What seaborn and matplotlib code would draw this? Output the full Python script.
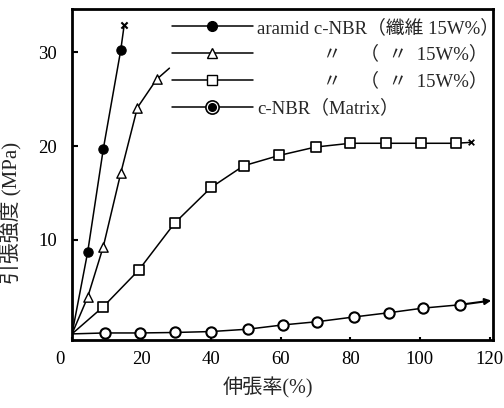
import numpy as np
import pandas as pd
import matplotlib
matplotlib.use("Agg")
import matplotlib.pyplot as plt
from matplotlib.lines import Line2D
import matplotlib.transforms as mtransforms
import seaborn as sns

# ---- data ----
aramid_x = [4.5, 9.0, 14.0]
aramid_y = [8.7, 19.7, 30.2]
aramid_break = (15.0, 32.9)

tri_x = [4.5, 9.0, 14.0, 18.8, 24.3]
tri_y = [3.9, 9.3, 17.1, 24.1, 27.1]
tri_end = (28.0, 28.3)

sq_x = [9.0, 19.2, 29.5, 40.0, 49.3, 59.5, 70.0, 80.0, 90.3, 100.3, 110.3]
sq_y = [2.9, 6.8, 11.8, 15.6, 17.9, 19.0, 19.9, 20.3, 20.3, 20.3, 20.3]
sq_break = (114.7, 20.4)

mat_x = [9.5, 19.5, 29.5, 40.0, 50.5, 60.5, 70.5, 81.0, 91.0, 101.0, 111.5]
mat_y = [0.1, 0.1, 0.15, 0.25, 0.5, 0.95, 1.3, 1.8, 2.25, 2.75, 3.1]
mat_end = (120.5, 3.55)

x_ticks = [0, 20, 40, 60, 80, 100, 120]
y_ticks = [10, 20, 30]

labels = ["aramid c-NBR（纖維 15W%）",
          "　　　  〃　（  〃  15W%）",
          "　　　  〃　（  〃  15W%）",
          "c-NBR（Matrix）"]

sns.set_theme(style="ticks")
plt.rcParams['font.family'] = ['Liberation Serif', 'Noto Sans CJK JP']
plt.rcParams['axes.unicode_minus'] = False

fig = plt.figure(figsize=(5.04, 4.08), dpi=100)
ax = fig.add_axes([72/504, 1-340/408, (493-72)/504, (340-9)/408])

lw = 1.1
def line(xs, ys):
    df = pd.DataFrame({"x": xs, "y": ys})
    sns.lineplot(data=df, x="x", y="y", ax=ax, color="black", lw=lw,
                 sort=False, estimator=None)

def pts(xs, ys, **kw):
    df = pd.DataFrame({"x": xs, "y": ys})
    sns.scatterplot(data=df, x="x", y="y", ax=ax, color="black", zorder=5, **kw)

# aramid filled circles
line([0] + aramid_x + [aramid_break[0]], [0] + aramid_y + [aramid_break[1]])
pts(aramid_x, aramid_y, marker="o", s=45, edgecolor="black", linewidth=0.8)
pts([aramid_break[0]], [aramid_break[1]], marker="x", s=20, linewidth=1.5)

# triangles
line([0] + tri_x + [tri_end[0]], [0] + tri_y + [tri_end[1]])
pts(tri_x, tri_y, marker="^", s=45, facecolor="white", edgecolor="black", linewidth=1.0)

# squares
line([0] + sq_x + [sq_break[0]], [0] + sq_y + [sq_break[1]])
pts(sq_x, sq_y, marker="s", s=45, facecolor="white", edgecolor="black", linewidth=1.2)
pts([sq_break[0]], [sq_break[1]], marker="x", s=16, linewidth=1.3)

# matrix open circles
line([0] + mat_x, [0] + mat_y)
ax.annotate("", xy=mat_end, xytext=(mat_x[-1], mat_y[-1]),
            arrowprops=dict(arrowstyle="-|>", color="black", lw=1.5,
                            mutation_scale=9, shrinkA=0, shrinkB=0))
pts(mat_x, mat_y, marker="o", s=55, facecolor="white", edgecolor="black", linewidth=1.5)

ax.set_xlim(0, 121)
ax.set_ylim(-0.65, 34.6)
ax.set_xticks(x_ticks)
ax.set_yticks(y_ticks)
ax.set_xticklabels([str(v) for v in x_ticks])
ax.set_yticklabels([str(v) for v in y_ticks])
ax.tick_params(axis="both", direction="in", length=4, width=1.5, labelsize=13.5,
               colors="black")
ax.tick_params(axis="y", pad=11)
ax.tick_params(axis="x", pad=8, length=2)
for s in ax.spines.values():
    s.set_linewidth(2.0)
    s.set_color("black")
    s.set_visible(True)

# shift the "0" x tick label to the left
lab0 = ax.get_xticklabels()[0]
lab0.set_transform(lab0.get_transform() + mtransforms.ScaledTranslation(-12/100, 0, fig.dpi_scale_trans))

ax.set_xlabel("伸張率(%)", fontsize=14.5)
ax.set_ylabel("引張強度 (MPa)", fontsize=15)
ax.xaxis.set_label_coords(0.466, -0.112)
ax.yaxis.set_label_coords(-0.118, 0.384)

# legend
h1 = Line2D([], [], color="black", lw=lw, marker="o", ms=7)
h2 = Line2D([], [], color="black", lw=lw, marker="^", ms=7, mfc="white")
h3 = Line2D([], [], color="black", lw=lw, marker="s", ms=7, mfc="white")
h4a = Line2D([], [], color="black", lw=lw, marker="o", ms=9.5, mfc="white", mew=1.2)
h4b = Line2D([], [], color="none", lw=0, marker="o", ms=5.5, mfc="black", mec="black")
leg = ax.legend([h1, h2, h3, (h4a, h4b)], labels,
                loc="upper left", bbox_to_anchor=((172-72)/421, 1 - (10)/331),
                frameon=False, fontsize=13.5, handlelength=4.3, handletextpad=0.25,
                labelspacing=0.48, borderaxespad=0, borderpad=0)

fig.savefig("out.png", dpi=100)
